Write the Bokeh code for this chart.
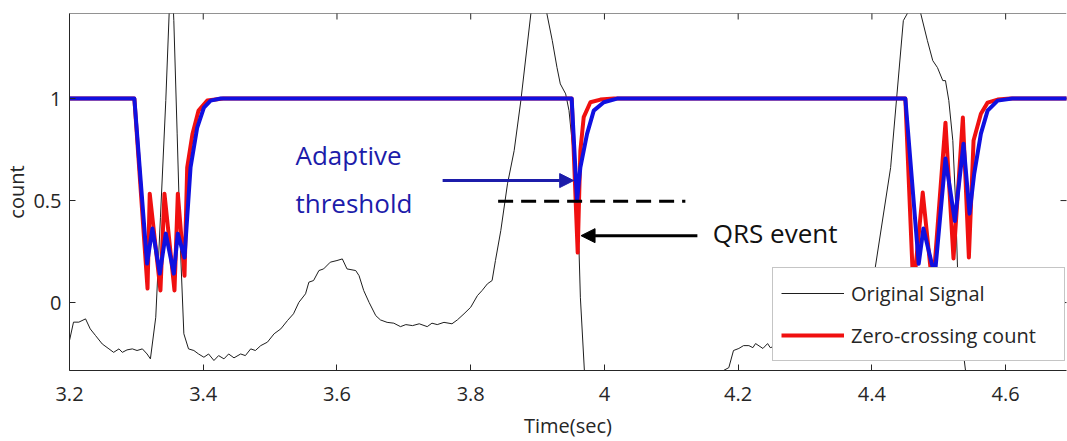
import math

from bokeh.plotting import figure
from bokeh.models import (FixedTicker, CustomJSTickFormatter, Legend, LegendItem, Label,
                          Arrow, NormalHead, ColumnDataSource, Range1d, Span)
from bokeh.embed import file_html
from bokeh.resources import INLINE

# ---- data -------------------------------------------------------------
# raw ECG trace (seconds, normalised amplitude)
sig_t = [3.2, 3.206, 3.214, 3.224, 3.231, 3.239, 3.249, 3.259, 3.266, 3.274, 3.279, 3.286,
         3.294, 3.301, 3.309, 3.316, 3.321, 3.329, 3.336, 3.344, 3.349, 3.353, 3.356, 3.361,
         3.366, 3.371, 3.378, 3.386, 3.393, 3.401, 3.408, 3.416, 3.423, 3.431, 3.438, 3.446,
         3.456, 3.463, 3.471, 3.478, 3.486, 3.496, 3.506, 3.516, 3.526, 3.535, 3.543, 3.553,
         3.558, 3.565, 3.573, 3.580, 3.590, 3.600, 3.608, 3.615, 3.628, 3.633, 3.640, 3.648,
         3.658, 3.665, 3.675, 3.685, 3.695, 3.703, 3.713, 3.723, 3.735, 3.742, 3.750, 3.760,
         3.772, 3.780, 3.790, 3.800, 3.810, 3.817, 3.825, 3.832, 3.837, 3.845, 3.855, 3.865,
         3.875, 3.890, 3.902, 3.914, 3.922, 3.929, 3.934, 3.942, 3.947, 3.953, 3.958, 3.962,
         3.964, 3.970, 3.980, 4.080, 4.170, 4.178, 4.186, 4.193, 4.201, 4.208, 4.216, 4.222,
         4.226, 4.237, 4.244, 4.248, 4.300, 4.360, 4.390, 4.405, 4.428, 4.447, 4.453, 4.462,
         4.473, 4.483, 4.491, 4.498, 4.506, 4.510, 4.515, 4.521, 4.525, 4.528, 4.535, 4.540,
         4.550, 4.700]
sig_v = [-0.186, -0.096, -0.096, -0.080, -0.129, -0.162, -0.203, -0.227, -0.244, -0.227, -0.244, -0.232,
         -0.227, -0.235, -0.227, -0.252, -0.276, -0.072, 0.418, 0.990, 1.415, 1.62, 1.382, 0.827,
         0.255, -0.153, -0.227, -0.235, -0.252, -0.268, -0.252, -0.284, -0.260, -0.276, -0.252, -0.271,
         -0.252, -0.260, -0.227, -0.235, -0.211, -0.194, -0.153, -0.129, -0.088, -0.055, 0.001, 0.043,
         0.100, 0.108, 0.157, 0.165, 0.198, 0.206, 0.214, 0.165, 0.157, 0.132, 0.059, 0.001,
         -0.064, -0.085, -0.097, -0.101, -0.118, -0.108, -0.113, -0.104, -0.118, -0.101, -0.108, -0.097,
         -0.104, -0.085, -0.055, -0.023, 0.034, 0.059, 0.092, 0.108, 0.206, 0.353, 0.582, 0.745,
         0.990, 1.417, 1.62, 1.415, 1.284, 1.153, 1.072, 1.023, 0.941, 0.745, 0.5, 0.255,
         0.026, -0.333, -0.45, -0.62, -0.45, -0.333, -0.319, -0.235, -0.225, -0.211, -0.211, -0.221,
         -0.201, -0.225, -0.201, -0.221, -0.17, -0.12, 0.0, 0.172, 0.662, 1.382, 1.417, 1.55,
         1.417, 1.284, 1.186, 1.152, 1.088, 1.088, 0.990, 0.794, 0.500, 0.172, -0.2, -0.333,
         -0.6, -0.7]

# zero-crossing count
zc_t = [3.2, 3.297, 3.3167, 3.320, 3.336, 3.342, 3.357, 3.362, 3.372, 3.376, 3.384, 3.393,
        3.406, 3.430, 3.951, 3.960, 3.962, 3.964, 3.969, 3.979, 3.994, 4.014, 4.450, 4.462,
        4.476, 4.491, 4.510, 4.522, 4.536, 4.545, 4.552, 4.563, 4.573, 4.588, 4.607, 4.7]
zc_v = [1, 1, 0.069, 0.534, 0.059, 0.534, 0.059, 0.534, 0.132, 0.662, 0.828, 0.941,
        0.990, 1, 1, 0.245, 0.5, 0.745, 0.909, 0.982, 0.995, 1, 1, 0.06,
        0.539, 0.06, 0.882, 0.216, 0.907, 0.221, 0.794, 0.926, 0.980, 0.995, 1, 1]

# adaptive threshold
th_t = [3.2, 3.297, 3.316, 3.324, 3.335, 3.344, 3.356, 3.362, 3.372, 3.381, 3.391, 3.401,
        3.411, 3.426, 3.951, 3.959, 3.964, 3.974, 3.984, 3.999, 4.019, 4.450, 4.470, 4.477,
        4.494, 4.510, 4.524, 4.537, 4.546, 4.553, 4.563, 4.573, 4.588, 4.610, 4.7]
th_v = [1, 1, 0.191, 0.363, 0.142, 0.338, 0.142, 0.338, 0.221, 0.662, 0.858, 0.956,
        0.990, 1, 1, 0.5, 0.663, 0.827, 0.941, 0.982, 1, 1, 0.19, 0.363,
        0.13, 0.706, 0.40, 0.779, 0.436, 0.632, 0.828, 0.941, 0.990, 1, 1]

x_ticks = [3.2, 3.4, 3.6, 3.8, 4.0, 4.2, 4.4, 4.6]
y_ticks = [0, 0.5, 1]

# ---- styling ----------------------------------------------------------
FONT = "Open Sans"
AX = "#262626"
RED = "#f01010"
BLUE = "#1010e0"
NAVY = "#1c1caa"
X0, X1 = 3.2, 4.691
Y0, Y1 = -0.333, 1.417

p = figure(width=1067, height=441, x_range=Range1d(X0, X1), y_range=Range1d(Y0, Y1),
           output_backend="svg", toolbar_location=None,
           min_border_left=69, min_border_right=1, min_border_top=13, min_border_bottom=71)
p.xgrid.visible = False
p.ygrid.visible = False
p.outline_line_color = None
p.background_fill_color = "white"
p.border_fill_color = "white"

fmt = CustomJSTickFormatter(code="return Number(tick.toFixed(2)).toString();")

xa = p.xaxis[0]
ya = p.yaxis[0]
for ax, ticks in ((xa, x_ticks), (ya, y_ticks)):
    ax.ticker = FixedTicker(ticks=ticks)
    ax.formatter = fmt
    ax.major_tick_in = 6
    ax.major_tick_out = 0
    ax.minor_tick_line_color = None
    ax.major_tick_line_color = AX
    ax.axis_line_color = AX
    ax.major_label_text_font = FONT
    ax.major_label_text_font_size = "20px"
    ax.major_label_text_color = AX
    ax.axis_label_text_font = FONT
    ax.axis_label_text_font_size = "20px"
    ax.axis_label_text_font_style = "normal"
    ax.axis_label_text_color = AX
xa.axis_label = "Time(sec)"
ya.axis_label = "count"
xa.major_label_standoff = 16
xa.axis_label_standoff = 8
ya.major_label_standoff = 8
ya.axis_label_standoff = 0

# box edge along the top plus inward ticks on the top and right edges
p.add_layout(Span(location=Y1, dimension="width", line_color=AX, line_width=1))
p.scatter(x_ticks, [Y1] * len(x_ticks), marker="dash", size=12, angle=math.pi / 2,
          line_color=AX, line_width=1)
p.scatter([X1] * len(y_ticks), y_ticks, marker="dash", size=12,
          line_color=AX, line_width=1)

# ---- series -----------------------------------------------------------
r_sig = p.line("t", "v", source=ColumnDataSource(dict(t=sig_t, v=sig_v)),
               line_color="#1e1e1e", line_width=1)
r_zc = p.line("t", "v", source=ColumnDataSource(dict(t=zc_t, v=zc_v)),
              line_color=RED, line_width=4, line_join="round")
r_th = p.line("t", "v", source=ColumnDataSource(dict(t=th_t, v=th_v)),
              line_color=BLUE, line_width=4, line_join="round")

# ---- annotations ------------------------------------------------------
p.add_layout(Arrow(end=None, x_start=3.841, y_start=0.497, x_end=4.121, y_end=0.497,
                   line_color="black", line_width=3, line_dash="15 8"))
p.add_layout(Arrow(end=NormalHead(size=14, fill_color=NAVY, line_color=NAVY),
                   x_start=3.758, y_start=0.598, x_end=3.954, y_end=0.598,
                   line_color=NAVY, line_width=3))
p.add_layout(Arrow(end=NormalHead(size=14, fill_color="black", line_color="black"),
                   x_start=4.139, y_start=0.328, x_end=3.965, y_end=0.328,
                   line_color="black", line_width=3))

for txt, yy in (("Adaptive", 0.725), ("threshold", 0.487)):
    p.add_layout(Label(x=3.538, y=yy, text=txt, text_font=FONT, text_font_size="26px",
                       text_color=NAVY, text_baseline="alphabetic"))
p.add_layout(Label(x=4.162, y=0.339, text="QRS event", text_font=FONT, text_font_size="26px",
                   text_color="#111111", text_baseline="alphabetic"))

legend = Legend(items=[LegendItem(label="Original Signal", renderers=[r_sig]),
                       LegendItem(label="Zero-crossing count", renderers=[r_zc])],
                location=(703, 9), padding=8, spacing=8, margin=0,
                glyph_width=63, glyph_height=34, label_height=34, label_width=205,
                label_standoff=7, label_text_font=FONT, label_text_font_size="20px",
                label_text_color=AX, border_line_color="#8c8c8c", border_line_width=1,
                background_fill_color="white", background_fill_alpha=1.0)
p.add_layout(legend)

open("out.html", "w").write(file_html(p, INLINE))
